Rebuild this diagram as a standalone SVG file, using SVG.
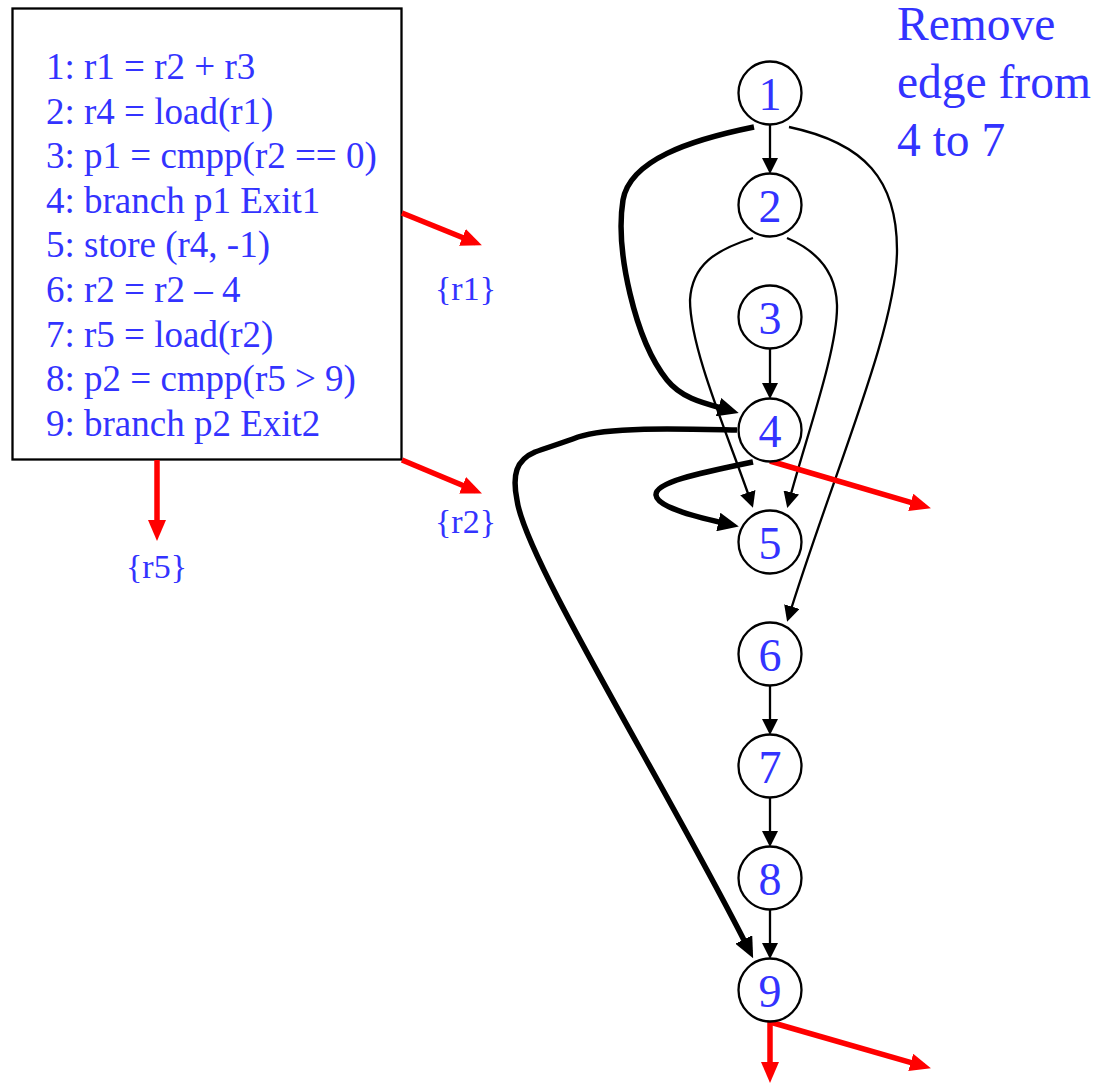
<svg xmlns="http://www.w3.org/2000/svg" width="1105" height="1083" viewBox="0 0 1105 1083">
<style>
.t{font-family:"Liberation Serif","Times New Roman",serif;fill:#3333ff}
.code{font-size:37px}
.lbl{font-size:34px}
.big{font-size:47.5px}
.node circle{fill:#fff;stroke:#000;stroke-width:2.3}
.node text{font-family:"Liberation Serif","Times New Roman",serif;fill:#3333ff;font-size:46px;text-anchor:middle}
.thin{fill:none;stroke:#000;stroke-width:2.3;marker-end:url(#ah)}
.thick{fill:none;stroke:#000;stroke-width:5.5;marker-end:url(#ahb)}
.red{fill:none;stroke:#ff0000;stroke-width:5.5;marker-end:url(#ahr)}
</style>
<defs>
<marker id="ah" markerUnits="userSpaceOnUse" viewBox="0 0 16 16" markerWidth="16" markerHeight="16" refX="13" refY="8" orient="auto"><path d="M0,0 L16,8 L0,16 z" fill="#000"/></marker>
<marker id="ahb" markerUnits="userSpaceOnUse" viewBox="0 0 21 19" markerWidth="21" markerHeight="19" refX="14" refY="9.5" orient="auto"><path d="M0,0 L21,9.5 L0,19 z" fill="#000"/></marker>
<marker id="ahr" markerUnits="userSpaceOnUse" viewBox="0 0 21 18" markerWidth="21" markerHeight="18" refX="14" refY="9" orient="auto"><path d="M0,0 L21,9 L0,18 z" fill="#ff0000"/></marker>
</defs>
<rect width="1105" height="1083" fill="#fff"/>

<g id="codebox">
<rect x="12.5" y="8.5" width="389" height="451" fill="#fff" stroke="#000" stroke-width="2.3"/>
<text class="t code" x="46" y="79">1: r1 = r2 + r3</text>
<text class="t code" x="46" y="123.6">2: r4 = load(r1)</text>
<text class="t code" x="46" y="168.2">3: p1 = cmpp(r2 == 0)</text>
<text class="t code" x="46" y="212.8">4: branch p1 Exit1</text>
<text class="t code" x="46" y="257.4">5: store (r4, -1)</text>
<text class="t code" x="46" y="302">6: r2 = r2 – 4</text>
<text class="t code" x="46" y="346.6">7: r5 = load(r2)</text>
<text class="t code" x="46" y="391.2">8: p2 = cmpp(r5 &gt; 9)</text>
<text class="t code" x="46" y="435.8">9: branch p2 Exit2</text>
</g>

<g id="labels">
<text class="t lbl" x="435" y="300">{r1}</text>
<text class="t lbl" x="435" y="533">{r2}</text>
<text class="t lbl" x="126" y="578">{r5}</text>
<text class="t big" x="897" y="40">Remove</text>
<text class="t big" x="897" y="98">edge from</text>
<text class="t big" x="897" y="155.5">4 to 7</text>
</g>

<g id="connectors">
<path class="thin" d="M770,124 L770,171"/>
<path class="thin" d="M770,349 L770,396"/>
<path class="thin" d="M770,685 L770,732"/>
<path class="thin" d="M770,797 L770,844"/>
<path class="thin" d="M770,909 L770,956"/>
<path class="thin" d="M753,238 C715,250 692,265 690,300 C690,350 730,440 752,505"/>
<path class="thin" d="M787,238 C815,250 836,270 837,305 C838,350 805,440 788,505"/>
<path class="thin" d="M789,127 C865,143 897,180 897,250 C897,330 832,476 788,619"/>
<path class="thick" d="M754,127 C690,140 630,160 623,200 C615,250 635,340 667,380 C683,400 708,404 732,411"/>
<path class="thick" d="M753,462 C700,473 655,482 656,495 C657,508 700,518 732,525"/>
<path class="thick" d="M737,430 C690,429 610,426 578,437 C562,443 549,447 535,452 C516,460 512,475 517,500 C525,560 669.5,791 750,952"/>
<path class="red" d="M402,213 L475.4,242.7"/>
<path class="red" d="M402,460 L475.5,490.7"/>
<path class="red" d="M157,460 L157,534"/>
<path class="red" d="M770,461 L924.2,506.3"/>
<path class="red" d="M770,1022 L770,1076"/>
<path class="red" d="M770,1022 L924.2,1066.3"/>
</g>

<g id="n1" class="node"><circle cx="770" cy="93" r="31.5"/><text x="770" y="110">1</text></g>
<g id="n2" class="node"><circle cx="770" cy="205" r="31.5"/><text x="770" y="222">2</text></g>
<g id="n3" class="node"><circle cx="770" cy="317" r="31.5"/><text x="770" y="334">3</text></g>
<g id="n4" class="node"><circle cx="770" cy="430" r="31.5"/><text x="770" y="447">4</text></g>
<g id="n5" class="node"><circle cx="770" cy="542" r="31.5"/><text x="770" y="559">5</text></g>
<g id="n6" class="node"><circle cx="770" cy="654" r="31.5"/><text x="770" y="671">6</text></g>
<g id="n7" class="node"><circle cx="770" cy="766" r="31.5"/><text x="770" y="783">7</text></g>
<g id="n8" class="node"><circle cx="770" cy="878" r="31.5"/><text x="770" y="895">8</text></g>
<g id="n9" class="node"><circle cx="770" cy="990" r="31.5"/><text x="770" y="1007">9</text></g>
</svg>
